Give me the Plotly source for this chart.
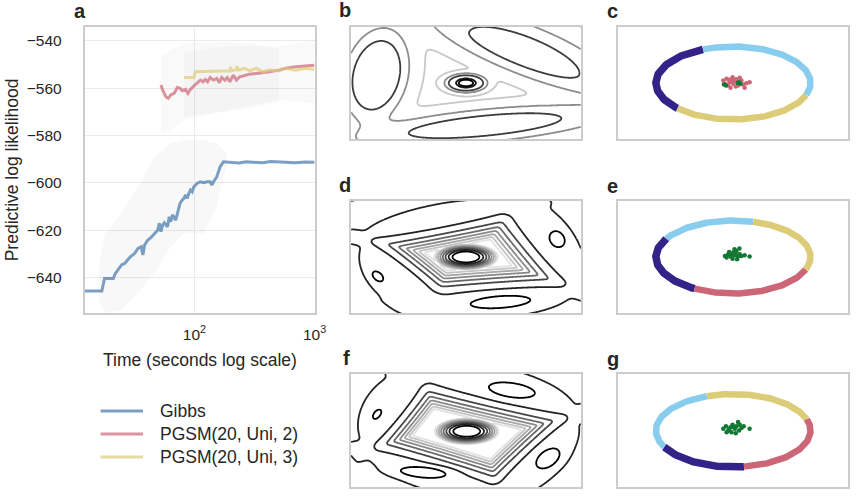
import numpy as np
import plotly.graph_objects as go

W, H = 868, 496
FONT = "Liberation Sans, Arial, Helvetica, sans-serif"
TXT = "#262626"

# ---------------- panel a data (time in seconds, predictive log likelihood) ----------------
GIBBS_T = [12.24, 15.94, 16.96, 17.85, 21.15, 21.84, 24.74, 26.38, 29.0, 31.86, 33.91, 36.09, 37.26, 38.48,
           40.96, 43.58, 46.48, 49.46, 51.07, 52.64, 54.35, 56.13, 59.73, 61.69, 63.58, 65.65, 69.87, 72.14,
           75.9, 79.27, 81.86, 84.37, 87.13, 89.97, 92.73, 95.74, 98.88, 105.2, 112.0, 119.4, 127.1, 135.2,
           139.7, 144.2, 153.5, 158.5, 163.4, 174.2, 197.3, 235.0, 270.4, 320.0, 370.7, 430.0, 507.0, 600.0,
           694.9, 840.0, 1000.0]
GIBBS_V = [-645.6, -645.6, -645.6, -640.3, -640.3, -638.4, -634.6, -633.9, -631.4, -629.7, -627.6, -626.9,
           -630.4, -626.2, -624.1, -623.0, -621.3, -619.9, -617.0, -620.6, -617.8, -616.8, -618.5, -614.3,
           -616.4, -613.5, -615.7, -612.8, -608.6, -607.2, -606.5, -605.1, -606.5, -604.4, -603.0, -603.7,
           -601.6, -600.2, -599.5, -599.9, -599.5, -599.5, -600.9, -599.5, -597.4, -595.3, -593.2, -591.1,
           -591.3, -591.6, -591.1, -591.4, -591.5, -591.0, -591.2, -591.6, -591.5, -591.2, -591.3]

PGSM2_T = [52.64, 54.35, 57.85, 60.53, 63.58, 67.78, 72.14, 75.9, 79.27, 84.37, 88.29, 92.73, 98.88, 105.2,
           112.0, 117.8, 123.1, 128.8, 135.2, 144.2, 153.5, 161.5, 168.7, 179.6, 187.8, 197.3, 210.4, 223.9,
           238.3, 254.1, 287.7, 326.6, 370.7, 419.8, 507.0, 575.2, 694.9, 838.9, 1000.0]
PGSM2_V = [-558.7, -560.8, -563.6, -564.3, -562.9, -562.2, -559.7, -560.1, -561.1, -560.5, -562.2, -560.5,
           -559.1, -558.0, -556.6, -557.3, -556.3, -557.3, -555.5, -556.6, -555.9, -557.7, -555.5, -556.6,
           -555.5, -557.3, -554.5, -556.6, -555.2, -554.9, -554.1, -553.8, -553.5, -553.1, -552.4, -551.6,
           -551.0, -550.7, -550.3]

PGSM3_T = [81.86, 98.88, 101.9, 144.2, 197.3, 199.9, 203.7, 223.9, 226.8, 231.1, 261.8, 287.7, 326.6, 370.7,
           419.8, 507.0, 575.2, 694.9, 838.9, 1000.0]
PGSM3_V = [-555.5, -555.5, -553.1, -552.9, -552.7, -551.0, -552.7, -552.1, -550.7, -552.4, -551.6, -552.7,
           -551.6, -553.1, -552.4, -552.7, -551.6, -552.4, -551.6, -552.1]

GIBBS_BAND_T = [15.94, 18.09, 24.74, 33.91, 46.48, 63.58, 81.86, 119.4, 153.5, 185.4]
GIBBS_BAND_HI = [-635.4, -621.3, -612.8, -601.6, -588.9, -583.3, -581.9, -581.9, -583.3, -587.5]
GIBBS_BAND_LO = [-649.4, -655.0, -653.6, -646.6, -638.1, -626.9, -621.3, -621.3, -610.0, -593.2]

PGSM2_BAND_T = [52.64, 63.58, 81.86, 197.3, 507.0, 1000.0]
PGSM2_BAND_HI = [-546.7, -543.9, -541.1, -540.4, -542.5, -539.7]
PGSM2_BAND_LO = [-579.1, -577.7, -573.5, -569.2, -565.0, -566.4]

PGSM3_BAND_T = [81.86, 135.2, 254.1, 507.0]
PGSM3_BAND_HI = [-545.0, -543.0, -542.0, -543.0]
PGSM3_BAND_LO = [-572.0, -570.6, -569.2, -566.0]

SERIES_NAMES = ["Gibbs", "PGSM(20, Uni, 2)", "PGSM(20, Uni, 3)"]
SERIES_COLORS = ["rgba(68,119,170,0.7)", "rgba(204,102,119,0.7)", "rgba(221,204,119,0.7)"]

Y_TICKS = [-540, -560, -580, -600, -620, -640]
X_TICKS = [100, 1000]
X_TICKTEXT = ["10<sup>2</sup>", "10<sup>3</sup>"]

# ---------------- contour panels: gaussian components ----------------
# mean, sd along, sd on inner side, sd on outer side, angle (deg), log-height
B_MX = [0.0, -1.17, 0.76, 0.25]
B_MY = [0.0, 0.10, 0.38, -0.55]
B_SA = [0.118, 0.297, 0.74, 0.894]
B_SIN = [0.052, 0.198, 0.154, 0.116]
B_SOUT = [0.052, 0.198, 0.21, 0.116]
B_ANG = [0, 75, -21, 5.5]
B_H = [1.82, 1.15, 0.54, 0.625]
B_TAU = 1.0
B_LEVELS = [-3.6, -1.0, 0.0, 1.25, 1.5]
B_LEVEL_COLORS = ["#c8c8c8", "#8c8c8c", "#3c3c3c", "#141414", "#000000"]

# panel d: centre, four ridges (sides of the diamond), three small peaks
D_MX = [0.0, -0.361, 0.988, 0.479, -0.84, 1.19, -1.15, 0.45]
D_MY = [0.0, 0.44, 0.149, -0.479, -0.182, 0.23, -0.25, -0.58]
D_SA = [0.13, 1.9, 1.35, 1.75, 1.17, 0.142, 0.103, 0.5]
D_SIN = [0.052, 0.124, 0.17, 0.13, 0.135, 0.116, 0.065, 0.097]
D_SOUT = [0.052, 0.45, 0.8, 0.55, 0.8, 0.116, 0.065, 0.097]
D_ANG = [0, 10.8, -49.8, 3.8, -37.7, -50, -40, 4]
D_H = [0.91, -0.46, -0.46, -0.46, -0.46, 0.3, 0.3, 0.3]

# panel f: centre, four ridges, four small peaks
F_MX = [0.01, -0.915, 0.414, 0.903, -0.423, 0.60, 1.07, -0.56, -1.16]
F_MY = [-0.01, 0.23, 0.447, -0.307, -0.516, 0.52, -0.36, -0.54, 0.21]
F_SA = [0.13, 1.11, 2.0, 1.33, 1.74, 0.387, 0.22, 0.374, 0.09]
F_SIN = [0.052, 0.13, 0.13, 0.13, 0.13, 0.116, 0.13, 0.084, 0.052]
F_SOUT = [0.052, 0.8, 0.7, 0.7, 0.5, 0.116, 0.13, 0.084, 0.052]
F_ANG = [0, 50.7, -13, 42.5, -16.5, -8, 35, -5, 50]
F_H = [0.91, -0.46, -0.46, -0.46, -0.46, 0.3, 0.3, 0.3, 0.3]
DF_TAU = 0.15

DF_LEVEL_START, DF_LEVEL_END, DF_LEVEL_STEP = -4.2, 0.0, 0.6

# ---------------- scatter panels: ring clusters (ellipse angle ranges, degrees) ----------------
RING_A, RING_B = 1.01, 0.47
C_ARC_FROM = [113, 224, 341]
C_ARC_TO = [224, 341, 473]
C_ARC_COL = ["#332288", "#DDCC77", "#88CCEE"]
E_ARC_FROM = [75, 150, 240, 340]
E_ARC_TO = [150, 240, 340, 435]
E_ARC_COL = ["#88CCEE", "#332288", "#CC6677", "#DDCC77"]
G_ARC_FROM = [18, 110, 207, 278]
G_ARC_TO = [110, 207, 278, 378]
G_ARC_COL = ["#DDCC77", "#88CCEE", "#332288", "#CC6677"]

C_PINK_X = [-0.13, -0.086, -0.044, -0.022, 0.0, 0.021, 0.042, -0.066, -0.108, 0.063, 0.107, 0.127, 0.171,
            0.214, 0.149, -0.009, 0.033, -0.035, 0.085, -0.05, 0.008]
C_PINK_Y = [0.032, 0.054, 0.041, 0.010, -0.010, 0.023, 0.049, -0.032, -0.010, -0.032, 0.032, -0.019, -0.003,
            0.010, -0.062, 0.075, -0.045, -0.062, 0.067, 0.013, 0.049]
C_GREEN_X = [-0.121, -0.095, 0.076, 0.093, 0.059]
C_GREEN_Y = [-0.019, -0.032, 0.010, -0.010, 0.0]
E_GREEN_X = [-0.108, -0.066, -0.035, 0.0, 0.021, 0.042, 0.063, 0.085, -0.009, -0.086, 0.107, 0.149, 0.214,
             -0.053, 0.05, 0.017, 0.081, -0.022, 0.03]
E_GREEN_Y = [0.013, 0.035, 0.005, 0.057, 0.022, 0.077, 0.005, 0.035, -0.021, -0.008, 0.013, 0.022, 0.005,
             0.064, -0.03, 0.099, 0.108, 0.035, 0.045]
G_GREEN_X = [-0.130, -0.095, -0.065, -0.035, -0.009, 0.021, 0.042, 0.063, 0.076, 0.107, 0.137, 0.214, -0.022,
             -0.086, 0.033, 0.085, -0.052, 0.008]
G_GREEN_Y = [0.022, 0.056, 0.0, 0.043, 0.073, 0.022, 0.056, 0.108, 0.0, 0.031, 0.056, 0.022, -0.021, -0.021,
             -0.034, 0.073, 0.022, 0.043]

# ---------------- layout geometry (pixels) ----------------
BOXES = {
    "a": (86, 319, 27, 313),
    "b": (356, 589, 27, 139), "c": (627, 860, 27, 139),
    "d": (356, 589, 201, 313), "e": (627, 860, 201, 313),
    "f": (356, 589, 374, 487), "g": (627, 860, 374, 487),
}
AX_ID = {"a": "", "b": "2", "c": "3", "d": "4", "e": "5", "f": "6", "g": "7"}
PXU = 233 / 3.0  # pixels per unit in panels b-g


def dom_x(b):
    return [b[0] / W, b[1] / W]


def dom_y(b):
    return [1 - b[3] / H, 1 - b[2] / H]


def mix_log(X, Y, mx, my, sa, sin_, sout, ang, h, tau):
    terms = []
    for k in range(len(mx)):
        t = np.deg2rad(ang[k])
        c, s = np.cos(t), np.sin(t)
        dx, dy = X - mx[k], Y - my[k]
        u = dx * c + dy * s
        v = -dx * s + dy * c
        v0 = mx[k] * s - my[k] * c  # across coordinate of the panel centre
        sv = np.where(v * v0 > 0, sin_[k], sout[k])
        terms.append(h[k] - 0.5 * ((u / sa[k]) ** 2 + (v / sv) ** 2))
    T = np.stack(terms) / tau
    m = T.max(0)
    return tau * (m + np.log(np.exp(T - m).sum(0)))


def remap(z, lv):
    idx = np.arange(1, len(lv) + 1, dtype=float)
    out = np.interp(z, lv, idx)
    lo = z < lv[0]
    out[lo] = 1 + (z[lo] - lv[0]) / (lv[1] - lv[0])
    hi = z > lv[-1]
    out[hi] = len(lv) + (z[hi] - lv[-1]) / (lv[-1] - lv[-2])
    return out


gx = np.linspace(-1.5, 1.5, 301)
gy = np.linspace(-0.74, 0.74, 149)
GX, GY = np.meshgrid(gx, gy)

fig = go.Figure()

# ---- panel a ----
def band(t, hi, lo, color):
    return go.Scatter(x=list(t) + list(t)[::-1], y=list(hi) + list(lo)[::-1], fill="toself",
                      fillcolor=color, line=dict(width=0), mode="lines", hoverinfo="skip",
                      showlegend=False, xaxis="x", yaxis="y")

fig.add_trace(band(GIBBS_BAND_T, GIBBS_BAND_HI, GIBBS_BAND_LO, "rgba(0,0,0,0.028)"))
fig.add_trace(band(PGSM2_BAND_T, PGSM2_BAND_HI, PGSM2_BAND_LO, "rgba(0,0,0,0.025)"))
fig.add_trace(band(PGSM3_BAND_T, PGSM3_BAND_HI, PGSM3_BAND_LO, "rgba(0,0,0,0.02)"))

for t, v, nm, col in [(GIBBS_T, GIBBS_V, SERIES_NAMES[0], SERIES_COLORS[0]),
                      (PGSM2_T, PGSM2_V, SERIES_NAMES[1], SERIES_COLORS[1]),
                      (PGSM3_T, PGSM3_V, SERIES_NAMES[2], SERIES_COLORS[2])]:
    fig.add_trace(go.Scatter(x=t, y=v, name=nm, mode="lines", line=dict(color=col, width=3),
                             showlegend=False, xaxis="x", yaxis="y"))

# ---- contour panels ----
zb = remap(mix_log(GX, GY, B_MX, B_MY, B_SA, B_SIN, B_SOUT, B_ANG, B_H, B_TAU), B_LEVELS)
nb = len(B_LEVELS)
b_scale = [[i / (nb - 1), c] for i, c in enumerate(B_LEVEL_COLORS)]
fig.add_trace(go.Contour(x=gx, y=gy, z=np.round(zb, 4), autocontour=False,
                         contours=dict(start=1, end=nb, size=1, coloring="lines", showlabels=False),
                         colorscale=b_scale, zauto=False, zmin=1, zmax=nb, showscale=False,
                         line=dict(width=1.8), hoverinfo="skip", xaxis="x2", yaxis="y2"))

df_scale = [[0, "#e2e2e2"], [0.5, "#7a7a7a"], [1, "#000000"]]
for (mx, my, sa, si, so, ang, hh, ax) in [
        (D_MX, D_MY, D_SA, D_SIN, D_SOUT, D_ANG, D_H, "4"),
        (F_MX, F_MY, F_SA, F_SIN, F_SOUT, F_ANG, F_H, "6")]:
    z = mix_log(GX, GY, mx, my, sa, si, so, ang, hh, DF_TAU)
    fig.add_trace(go.Contour(x=gx, y=gy, z=np.round(z, 4), autocontour=False,
                             contours=dict(start=DF_LEVEL_START, end=DF_LEVEL_END, size=DF_LEVEL_STEP,
                                           coloring="lines", showlabels=False),
                             colorscale=df_scale, zauto=False, zmin=DF_LEVEL_START, zmax=DF_LEVEL_END,
                             showscale=False, line=dict(width=1.8), hoverinfo="skip",
                             xaxis="x" + ax, yaxis="y" + ax))

# ---- scatter panels ----
def arcs(froms, tos, cols, ax):
    for a0, a1, col in zip(froms, tos, cols):
        th = np.deg2rad(np.linspace(a0, a1, 120))
        w = 7.5 if col == "#332288" else 6.5
        fig.add_trace(go.Scatter(x=RING_A * np.cos(th), y=RING_B * np.sin(th), mode="lines",
                                 line=dict(color=col, width=w), hoverinfo="skip", showlegend=False,
                                 xaxis="x" + ax, yaxis="y" + ax))

def pts(xs, ys, col, ax):
    fig.add_trace(go.Scatter(x=xs, y=ys, mode="markers", marker=dict(color=col, size=4.5, line=dict(width=0)),
                             hoverinfo="skip", showlegend=False, xaxis="x" + ax, yaxis="y" + ax))

arcs(C_ARC_FROM, C_ARC_TO, C_ARC_COL, "3")
pts(C_PINK_X, C_PINK_Y, "#CC6677", "3")
pts(C_GREEN_X, C_GREEN_Y, "#117733", "3")
arcs(E_ARC_FROM, E_ARC_TO, E_ARC_COL, "5")
pts(E_GREEN_X, E_GREEN_Y, "#117733", "5")
arcs(G_ARC_FROM, G_ARC_TO, G_ARC_COL, "7")
pts(G_GREEN_X, G_GREEN_Y, "#117733", "7")

# ---------------- layout ----------------
layout = dict(width=W, height=H, margin=dict(l=0, r=0, t=0, b=0), paper_bgcolor="white",
              plot_bgcolor="white", showlegend=False, font=dict(family=FONT, color=TXT))

bx = BOXES["a"]
layout["xaxis"] = dict(domain=dom_x(bx), type="log", range=[np.log10(12.24), 3.0], tickvals=X_TICKS,
                       ticktext=X_TICKTEXT, showgrid=True, gridcolor="#ebebeb", gridwidth=1, zeroline=False,
                       showline=True, mirror=True, linecolor="#cccccc", linewidth=2, ticks="",
                       ticklabelstandoff=6, tickfont=dict(size=15.5, family=FONT, color=TXT), anchor="y")
layout["yaxis"] = dict(domain=dom_y(bx), range=[-654.9, -534.2], tickvals=Y_TICKS, showgrid=True,
                       gridcolor="#ebebeb", gridwidth=1, zeroline=False, showline=True, mirror=True,
                       linecolor="#cccccc", linewidth=2, ticks="", ticklabelstandoff=18,
                       tickfont=dict(size=15.5, family=FONT, color=TXT), anchor="x")

for key in "bcdefg":
    bxx = BOXES[key]
    i = AX_ID[key]
    hy = (bxx[3] - bxx[2]) / 2 / PXU
    layout["xaxis" + i] = dict(domain=dom_x(bxx), range=[-1.5, 1.5], showgrid=False, zeroline=False,
                               showticklabels=False, ticks="", showline=True, mirror=True,
                               linecolor="#cccccc", linewidth=2, anchor="y" + i)
    layout["yaxis" + i] = dict(domain=dom_y(bxx), range=[-hy, hy], showgrid=False, zeroline=False,
                               showticklabels=False, ticks="", showline=True, mirror=True,
                               linecolor="#cccccc", linewidth=2, anchor="x" + i)

ann = []
PANEL_LABELS = [("a", 73, 11), ("b", 342, 10), ("c", 613, 11), ("d", 342, 185), ("e", 613, 186),
                ("f", 346, 358), ("g", 613, 359)]
for lab, x, y in PANEL_LABELS:
    ann.append(dict(text="<b>%s</b>" % lab, x=x / W, y=1 - y / H, xref="paper", yref="paper",
                    xanchor="left", yanchor="middle", showarrow=False,
                    font=dict(size=20, family=FONT, color=TXT)))
ann.append(dict(text="Predictive log likelihood", x=12.5 / W, y=1 - 170 / H, xref="paper", yref="paper",
                textangle=-90, xanchor="center", yanchor="middle", showarrow=False,
                font=dict(size=17.5, family=FONT, color=TXT)))
ann.append(dict(text="Time (seconds log scale)", x=202.5 / W, y=1 - 360 / H, xref="paper", yref="paper",
                xanchor="center", yanchor="middle", showarrow=False,
                font=dict(size=17.5, family=FONT, color=TXT)))

shapes = []
LEG_Y = [411, 434, 457]
for nm, col, yy in zip(SERIES_NAMES, SERIES_COLORS, LEG_Y):
    shapes.append(dict(type="line", xref="paper", yref="paper", x0=102 / W, x1=145 / W,
                       y0=1 - yy / H, y1=1 - yy / H, line=dict(color=col, width=3)))
    ann.append(dict(text=nm, x=160 / W, y=1 - yy / H, xref="paper", yref="paper", xanchor="left",
                    yanchor="middle", showarrow=False, font=dict(size=17.5, family=FONT, color=TXT)))

layout["annotations"] = ann
layout["shapes"] = shapes
fig.update_layout(**layout)
fig.write_html("out.html")
